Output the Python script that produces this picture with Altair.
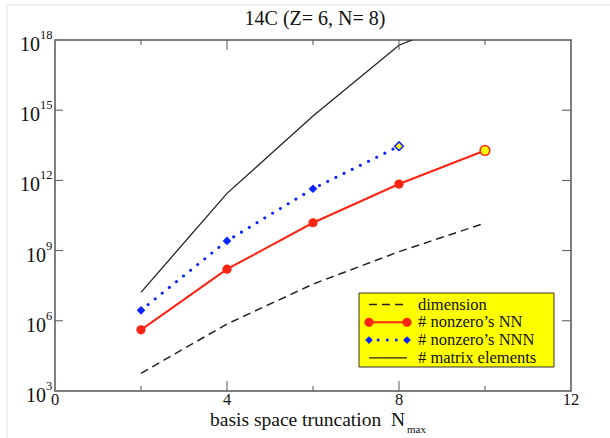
import altair as alt
import pandas as pd

# Basis-space truncation N_max and the sizes of the 14C many-body problem
nmax = [2, 4, 6, 8, 10]
dimension = [5.7e3, 7.3e5, 3.7e7, 9.0e8, 1.5e10]
nonzero_nn = [4.1e5, 1.6e8, 1.55e10, 7.0e11, 1.9e13]
nmax_nnn = [2, 4, 6, 8]
nonzero_nnn = [2.8e6, 2.6e9, 4.4e11, 2.9e13]
matrix_elements = [1.65e7, 2.8e11, 5.6e14, 6.0e17, 1.8e19]

# axis ticks
x_tick_labels = [0, 4, 8, 12]
x_major_ticks = [4, 8]
x_minor_ticks = [2, 6, 10]
y_exponents = [3, 6, 9, 12, 15, 18]

legend_labels = ["dimension", "# nonzero\u2019s NN", "# nonzero\u2019s NNN", "# matrix elements"]

W, H = 516, 351
SERIF = "Liberation Serif"
RED = "#ff2412"
BLUE = "#0a24ff"
YELLOW = "#ffff00"
FRAME = "#555555"
INK = "#111111"

xs = alt.Scale(domain=[0, 12], nice=False, zero=False)
ys = alt.Scale(type="log", domain=[1e3, 1e18], nice=False)


def xq(field):
    return alt.X(f"{field}:Q", scale=xs, axis=None)


def yq(field):
    return alt.Y(f"{field}:Q", scale=ys, axis=None)


def one():
    return alt.Chart(pd.DataFrame({"a": [0]}))


dim_df = pd.DataFrame({"n": nmax, "v": dimension})
nn_df = pd.DataFrame({"n": nmax, "v": nonzero_nn})
nnn_df = pd.DataFrame({"n": nmax_nnn, "v": nonzero_nnn})
me_df = pd.DataFrame({"n": nmax, "v": matrix_elements})

layers = []

# faint figure border
layers.append(one().mark_rule(color="#dddddd", strokeWidth=1).encode(
    x=alt.value(-48), y=alt.value(-35), y2=alt.value(H + 47)))
layers.append(one().mark_rule(color="#dddddd", strokeWidth=1).encode(
    x=alt.value(-48), x2=alt.value(W + 39), y=alt.value(-35)))

# data series
layers.append(alt.Chart(dim_df).mark_line(color="#222222", strokeWidth=1.5, strokeDash=[8, 5]).encode(
    x=xq("n"), y=yq("v")))
layers.append(alt.Chart(me_df).mark_line(color="#222222", strokeWidth=1.3, clip=True).encode(
    x=xq("n"), y=yq("v")))
layers.append(alt.Chart(nnn_df).mark_line(color=BLUE, strokeWidth=3, strokeDash=[0.1, 9], strokeCap="round").encode(
    x=xq("n"), y=yq("v")))
layers.append(alt.Chart(nn_df).mark_line(color=RED, strokeWidth=2).encode(
    x=xq("n"), y=yq("v")))

last_nn = max(nmax)
last_nnn = max(nmax_nnn)
nn_pts = alt.Chart(nn_df)
layers.append(nn_pts.transform_filter(f"datum.n < {last_nn}").mark_point(
    shape="circle", filled=True, size=85, color=RED, opacity=1).encode(x=xq("n"), y=yq("v")))
layers.append(nn_pts.transform_filter(f"datum.n == {last_nn}").mark_point(
    shape="circle", filled=True, size=95, fill=YELLOW, stroke=RED, strokeWidth=1.5, opacity=1).encode(
    x=xq("n"), y=yq("v")))
nnn_pts = alt.Chart(nnn_df)
layers.append(nnn_pts.transform_filter(f"datum.n < {last_nnn}").mark_point(
    shape="diamond", filled=True, size=75, color=BLUE, opacity=1).encode(x=xq("n"), y=yq("v")))
layers.append(nnn_pts.transform_filter(f"datum.n == {last_nnn}").mark_point(
    shape="diamond", filled=True, size=75, fill=YELLOW, stroke=BLUE, strokeWidth=1.5, opacity=1).encode(
    x=xq("n"), y=yq("v")))

# inward ticks on all four sides
maj = pd.DataFrame({"t": x_major_ticks})
mnr = pd.DataFrame({"t": x_minor_ticks})
for df, ln in ((maj, 10), (mnr, 5)):
    layers.append(alt.Chart(df).mark_rule(color=FRAME, strokeWidth=1).encode(
        x=xq("t"), y=alt.value(H), y2=alt.value(H - ln)))
    layers.append(alt.Chart(df).mark_rule(color=FRAME, strokeWidth=1).encode(
        x=xq("t"), y=alt.value(0), y2=alt.value(ln)))

ydf = pd.DataFrame({"e": y_exponents})
ytick = alt.Chart(ydf).transform_calculate(v="pow(10, datum.e)").transform_filter("datum.e > 3 && datum.e < 18")
layers.append(ytick.mark_rule(color=FRAME, strokeWidth=1).encode(
    y=yq("v"), x=alt.value(0), x2=alt.value(8)))
layers.append(ytick.mark_rule(color=FRAME, strokeWidth=1).encode(
    y=yq("v"), x=alt.value(W), x2=alt.value(W - 9)))

# y tick labels: "10" with a raised exponent
ylab = alt.Chart(ydf).transform_calculate(v="pow(10, datum.e)", es="'' + datum.e")
for cond, xpos in (("datum.e < 10", -9), ("datum.e >= 10", -15)):
    sub = ylab.transform_filter(cond)
    layers.append(sub.mark_text(align="right", baseline="middle", font=SERIF, fontSize=20, dy=5, color=INK).encode(
        y=yq("v"), x=alt.value(xpos), text=alt.value("10")))
    layers.append(sub.mark_text(align="left", baseline="middle", font=SERIF, fontSize=12.5, dy=-5, color=INK).encode(
        y=yq("v"), x=alt.value(xpos), text="es:N"))

# x tick labels
xlab = pd.DataFrame({"t": x_tick_labels})
layers.append(alt.Chart(xlab).transform_calculate(s="'' + datum.t").mark_text(
    align="center", baseline="middle", font=SERIF, fontSize=16.5, color=INK).encode(
    x=xq("t"), y=alt.value(H + 9), text="s:N"))

# x axis title with subscript
layers.append(one().mark_text(
    align="right", baseline="alphabetic", font=SERIF, fontSize=19.5, color=INK).encode(
    x=alt.value(350), y=alt.value(H + 35), text=alt.value("basis space truncation\u00a0\u00a0N")))
layers.append(one().mark_text(
    align="left", baseline="alphabetic", font=SERIF, fontSize=11, color=INK).encode(
    x=alt.value(352), y=alt.value(H + 42), text=alt.value("max")))

# title
layers.append(one().mark_text(
    align="center", baseline="middle", font=SERIF, fontSize=20, color=INK).encode(
    x=alt.value(W / 2 + 2), y=alt.value(-21), text=alt.value("14C (Z= 6, N= 8)")))

# legend box
LX0, LX1, LY0, LY1 = 304, 499, 253, 327
layers.append(one().mark_rect(fill=YELLOW, stroke="#333333", strokeWidth=1).encode(
    x=alt.value(LX0), x2=alt.value(LX1), y=alt.value(LY0), y2=alt.value(LY1)))
row_y = [264.5, 282.3, 300.1, 317.9]
s0, s1 = 314, 352
layers.append(one().mark_rule(color="#222222", strokeWidth=1.5, strokeDash=[8, 5]).encode(
    x=alt.value(s0), x2=alt.value(s1 + 1), y=alt.value(row_y[0])))
layers.append(one().mark_rule(color=RED, strokeWidth=2).encode(
    x=alt.value(s0), x2=alt.value(s1), y=alt.value(row_y[1])))
layers.append(one().mark_rule(color=BLUE, strokeWidth=3, strokeDash=[0.1, 9], strokeCap="round").encode(
    x=alt.value(s0), x2=alt.value(s1), y=alt.value(row_y[2])))
layers.append(one().mark_rule(color="#222222", strokeWidth=1.3).encode(
    x=alt.value(s0), x2=alt.value(s1), y=alt.value(row_y[3])))
for xp in (s0, s1):
    layers.append(one().mark_point(
        shape="circle", filled=True, size=85, color=RED, opacity=1).encode(x=alt.value(xp), y=alt.value(row_y[1])))
    layers.append(one().mark_point(
        shape="diamond", filled=True, size=60, color=BLUE, opacity=1).encode(x=alt.value(xp), y=alt.value(row_y[2])))
leg_df = pd.DataFrame({"label": legend_labels, "row": list(range(len(legend_labels)))})
leg_y = alt.Scale(domain=[0, len(legend_labels) - 1], range=[row_y[0], row_y[-1]])
layers.append(alt.Chart(leg_df).mark_text(
    align="left", baseline="middle", font=SERIF, fontSize=16.5, color=INK).encode(
    x=alt.value(363), y=alt.Y("row:Q", scale=leg_y, axis=None), text="label:N"))

chart = alt.layer(*layers).resolve_scale(y="independent").properties(
    width=W, height=H,
    padding={"left": 55, "top": 40, "right": 39, "bottom": 47},
    autosize=alt.AutoSizeParams(type="none"),
    background="white",
).configure_view(stroke=FRAME, strokeWidth=1.5)

chart.save("out.html", embed_options={"renderer": "svg", "actions": False})
